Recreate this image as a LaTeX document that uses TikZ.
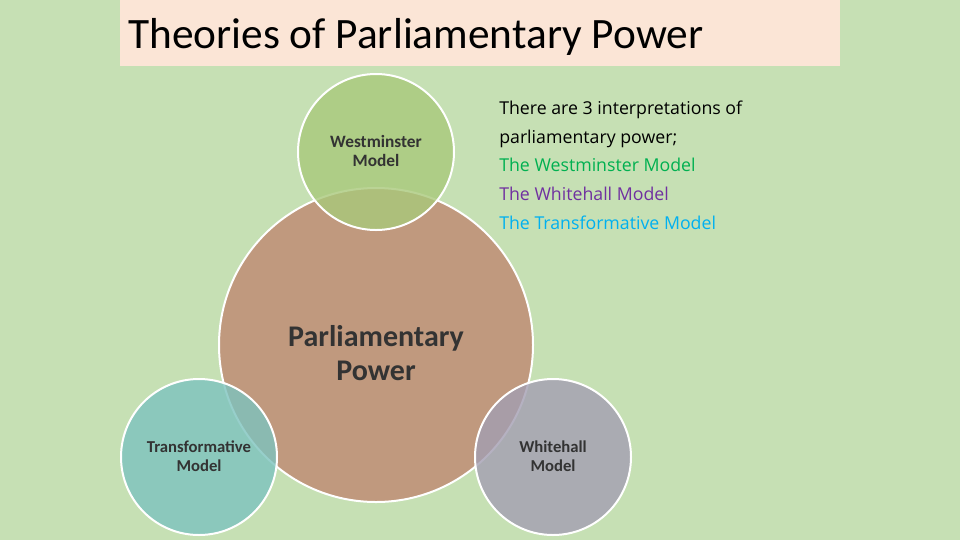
\documentclass[tikz,border=0pt]{standalone}
\usepackage{fontspec}
\setmainfont{Carlito}
\newfontfamily\opensans{Open Sans}
\begin{document}
\begin{tikzpicture}[x=0.75pt,y=-0.75pt,
  circ/.style={draw=white,line width=1.5pt,fill opacity=0.8,inner sep=0pt},
  lbl/.style={font=\bfseries,align=center,text=black!80,inner sep=0pt},
  side/.style={anchor=base west,inner sep=0pt,font=\opensans\fontsize{13.3}{16}\selectfont}]
\definecolor{bg}{HTML}{C6E0B4}
\definecolor{titlebg}{HTML}{FBE5D6}
\definecolor{cbig}{HTML}{C0997E}
\definecolor{ctop}{HTML}{A9C97B}
\definecolor{cleft}{HTML}{7DC3BE}
\definecolor{cright}{HTML}{A39EB2}
\definecolor{tgreen}{HTML}{00B050}
\definecolor{tpurple}{HTML}{7030A0}
\definecolor{tblue}{HTML}{00B0F0}
\fill[bg] (0,0) rectangle (960,540);
\useasboundingbox (0,0) rectangle (960,540);
\fill[titlebg] (120,0) rectangle (840,66);
\node[anchor=base west,inner sep=0pt,font=\fontsize{32.5}{36}\selectfont] (title) at (128,48) {Theories of Parliamentary Power};
\node[circ,circle,fill=cbig,fill opacity=1,minimum size=235.5pt] (pp) at (376,345) {};
\node[circ,circle,fill=ctop,minimum size=117pt] (wm) at (376,152) {};
\node[circ,circle,fill=cleft,minimum size=117pt] (tm) at (199,457) {};
\node[circ,circle,fill=cright,minimum size=117pt] (wh) at (553,457) {};
\node[lbl,font=\bfseries\fontsize{22.5}{25}\selectfont] (ppl) at (376,353) {Parliamentary\\Power};
\node[lbl,font=\bfseries\fontsize{13}{14.5}\selectfont] (wml) at (376,151) {Westminster\\Model};
\node[lbl,font=\bfseries\fontsize{12.5}{14}\selectfont] (tml) at (199,456) {Transformative\\Model};
\node[lbl,font=\bfseries\fontsize{12.5}{14}\selectfont] (whl) at (553,456) {Whitehall\\Model};
\node[side] (s1) at (499,114) {There are 3 interpretations of};
\node[side] (s2) at (499,143) {parliamentary power;};
\node[side,text=tgreen] (s3) at (499,171) {The Westminster Model};
\node[side,text=tpurple] (s4) at (499,200) {The Whitehall Model};
\node[side,text=tblue] (s5) at (499,229) {The Transformative Model};
\end{tikzpicture}
\end{document}
